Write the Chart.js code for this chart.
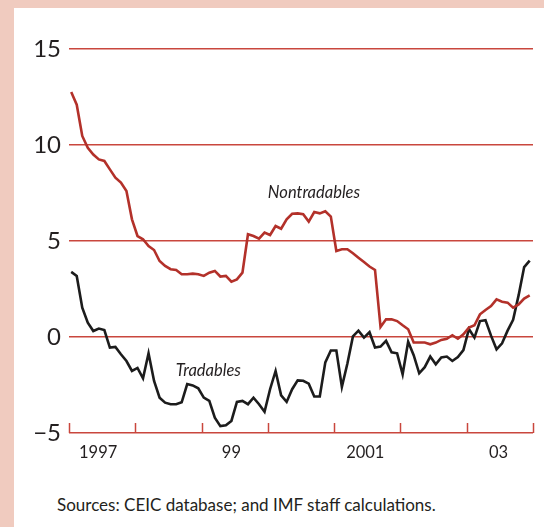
<!DOCTYPE html>
<html>
<head>
<meta charset="utf-8">
<script src="https://cdn.jsdelivr.net/npm/chart.js@4.4.1/dist/chart.umd.min.js"></script>
<style>
  html, body { margin: 0; padding: 0; }
  body { width: 544px; height: 527px; background: #f0cbbf; position: relative; overflow: hidden; }
  #panel { position: absolute; left: 14px; top: 8px; right: 0; bottom: 0; background: #fff; }
  #wrap { position: absolute; left: 0; top: 0; width: 544px; height: 470px; }
  #source { position: absolute; left: 57px; top: 494px; font: 17px Lato, sans-serif; color: #231f20; }
</style>
</head>
<body>
<div id="panel"></div>
<div id="wrap"><canvas id="chart"></canvas></div>
<div id="source">Sources: CEIC database; and IMF staff calculations.</div>
<script>
// monthly, Jan 1997 - Dec 2003 (percent change)
const startYear = 1997;
const endYear = 2004;

const nontradables = [
  12.76, 12.1, 10.47, 9.86, 9.5, 9.25, 9.17, 8.73, 8.3, 8.04, 7.6, 6.13,   // 1997
  5.26, 5.09, 4.74, 4.53, 3.96, 3.7, 3.53, 3.49, 3.27, 3.27, 3.3, 3.27,     // 1998
  3.18, 3.35, 3.44, 3.15, 3.18, 2.88, 3.0, 3.35, 5.35, 5.26, 5.12, 5.44,    // 1999
  5.31, 5.78, 5.64, 6.13, 6.42, 6.44, 6.39, 6.01, 6.51, 6.44, 6.55, 6.27,   // 2000
  4.48, 4.57, 4.57, 4.36, 4.13, 3.91, 3.67, 3.49, 0.52, 0.92, 0.92, 0.83,   // 2001
  0.61, 0.4, -0.29, -0.29, -0.29, -0.38, -0.29, -0.15, -0.09, 0.09, -0.09, 0.14, // 2002
  0.49, 0.61, 1.18, 1.41, 1.61, 1.96, 1.84, 1.79, 1.53, 1.7, 2.0, 2.17      // 2003
];

const tradables = [
  3.39, 3.18, 1.53, 0.75, 0.31, 0.44, 0.36, -0.55, -0.52, -0.9, -1.25, -1.77,     // 1997
  -1.61, -2.15, -0.85, -2.29, -3.16, -3.42, -3.5, -3.5, -3.4, -2.45, -2.52, -2.67, // 1998
  -3.16, -3.33, -4.2, -4.64, -4.6, -4.37, -3.38, -3.33, -3.5, -3.16, -3.5, -3.89,  // 1999
  -2.72, -1.77, -3.04, -3.38, -2.72, -2.26, -2.28, -2.43, -3.1, -3.1, -1.32, -0.7, // 2000
  -0.7, -2.6, -1.38, 0.03, 0.33, -0.03, 0.25, -0.55, -0.5, -0.2, -0.8, -0.85,      // 2001
  -1.94, -0.25, -0.95, -1.89, -1.57, -1.02, -1.42, -1.07, -1.02, -1.25, -1.05, -0.68, // 2002
  0.42, -0.03, 0.83, 0.88, 0.07, -0.64, -0.33, 0.33, 0.9, 2.18, 3.64, 3.98        // 2003
];

const xTickValues = [1997.44, 1999.45, 2001.47, 2003.48];
const xTickLabels = ["1997", "99", "2001", "03"];
const yTicks = [-5, 0, 5, 10, 15];

const RED = "#b3312a";
const GRID = "#c9473d";
const BLACK = "#1c1c1c";
const TEXT = "#231f20";

function toPoints(arr) {
  return arr.map((v, i) => ({ x: startYear + (i + 0.4) / 12, y: v }));
}

// year tick marks standing up from the bottom axis
const yearTicks = {
  id: "yearTicks",
  afterDraw(chart) {
    const { ctx, chartArea, scales } = chart;
    ctx.save();
    ctx.strokeStyle = GRID;
    ctx.lineWidth = 1.5;
    for (let y = startYear; y <= endYear; y++) {
      const px = Math.round(scales.x.getPixelForValue(y)) + 0.5;
      ctx.beginPath();
      ctx.moveTo(px, chartArea.bottom);
      ctx.lineTo(px, chartArea.bottom - 10);
      ctx.stroke();
    }
    ctx.restore();
  }
};

// series names written next to the lines
const notes = {
  id: "notes",
  afterDraw(chart) {
    const { ctx, scales } = chart;
    ctx.save();
    ctx.fillStyle = TEXT;
    ctx.font = "italic 16.5px Lato, sans-serif";
    ctx.textBaseline = "alphabetic";
    ctx.fillText("Nontradables", scales.x.getPixelForValue(2000.0), scales.y.getPixelForValue(7.22));
    ctx.fillText("Tradables", scales.x.getPixelForValue(1998.61), scales.y.getPixelForValue(-2.03));
    ctx.restore();
  }
};

new Chart(document.getElementById("chart"), {
  type: "line",
  data: {
    datasets: [
      { label: "Nontradables", data: toPoints(nontradables), borderColor: RED, borderWidth: 2.6, pointRadius: 0, tension: 0 },
      { label: "Tradables", data: toPoints(tradables), borderColor: BLACK, borderWidth: 2.6, pointRadius: 0, tension: 0 }
    ]
  },
  options: {
    responsive: true,
    maintainAspectRatio: false,
    animation: false,
    layout: { padding: { left: 0, right: 11, top: 49, bottom: 0 } },
    plugins: { legend: { display: false }, tooltip: { enabled: false } },
    scales: {
      x: {
        type: "linear",
        min: startYear,
        max: endYear,
        grid: { display: false, drawTicks: false },
        border: { display: false },
        afterBuildTicks: s => { s.ticks = xTickValues.map(v => ({ value: v })); },
        afterFit: s => { s.height = 37; },
        ticks: {
          padding: 10,
          color: TEXT,
          font: { family: "Lato, sans-serif", size: 16.5 },
          callback: (v, i) => xTickLabels[i]
        }
      },
      y: {
        min: -5,
        max: 15,
        afterBuildTicks: s => { s.ticks = yTicks.map(v => ({ value: v })); },
        afterFit: s => { s.width = 69; },
        grid: { color: GRID, lineWidth: 1.5, drawTicks: false },
        border: { display: false },
        ticks: {
          padding: 8,
          color: TEXT,
          font: { family: "Lato, sans-serif", size: 24 },
          callback: v => (v < 0 ? "\u2212" + Math.abs(v) : String(v))
        }
      }
    }
  },
  plugins: [yearTicks, notes]
});
</script>
</body>
</html>
